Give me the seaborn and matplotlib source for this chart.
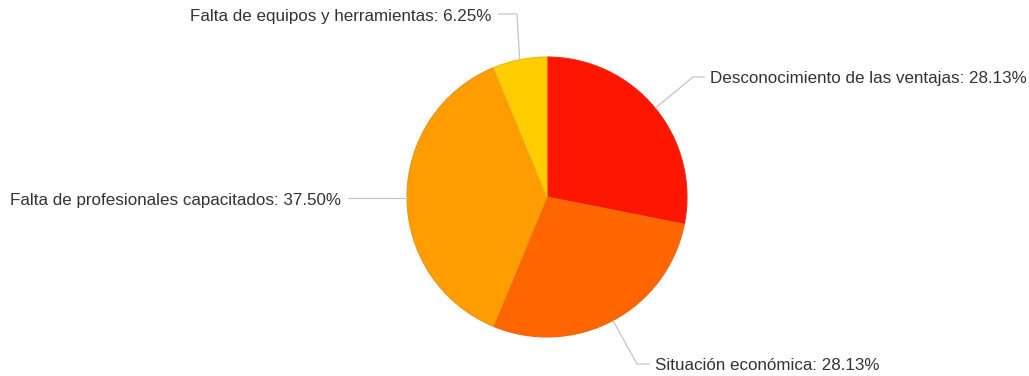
import matplotlib
matplotlib.use("Agg")
import matplotlib.pyplot as plt
import numpy as np
import seaborn as sns

# Data
categories = [
    "Desconocimiento de las ventajas",
    "Situación económica",
    "Falta de profesionales capacitados",
    "Falta de equipos y herramientas",
]
shares = [28.13, 28.13, 37.50, 6.25]
slice_colors = ["#FF1600", "#FF6600", "#FF9C00", "#FFCC00"]

sns.set_theme(style="white")
plt.rcParams["font.family"] = ["Liberation Sans", "DejaVu Sans"]

W, H = 1029, 376
fig = plt.figure(figsize=(W / 100, H / 100), dpi=100)
ax = fig.add_axes([0, 0, 1, 1])

cx, cy, r = 547, H - 197, 140
wedges, _ = ax.pie(
    shares,
    colors=slice_colors,
    startangle=90,
    counterclock=False,
    center=(cx, cy),
    radius=r,
    frame=True,
    wedgeprops=dict(linewidth=0.8),
)
for w, c in zip(wedges, slice_colors):
    w.set_edgecolor(sns.desaturate(c, 0.8))
ax.set_xlim(0, W)
ax.set_ylim(0, H)
ax.set_aspect("equal")
ax.axis("off")

# Label layout: (elbow point, text end point, text alignment)
layout = [
    ((693, H - 77), (705, H - 77), "left"),
    ((637, H - 364), (650, H - 364), "left"),
    ((407, H - 198), (348, H - 198), "right"),
    ((517, H - 14), (498, H - 14), "right"),
]

for w, cat, val, (elbow, end, ha) in zip(wedges, categories, shares, layout):
    ang = np.deg2rad((w.theta1 + w.theta2) / 2)
    px, py = cx + r * np.cos(ang), cy + r * np.sin(ang)
    ax.plot([px, elbow[0], end[0]], [py, elbow[1], end[1]],
            color="#C4C4C4", lw=0.9, solid_capstyle="butt")
    tx = end[0] + (5 if ha == "left" else -7)
    ax.text(tx, end[1] - 2, f"{cat}: {val:.2f}%", ha=ha, va="center",
            fontsize=12.25, color="#333333")

fig.savefig("out.png", dpi=100, facecolor="white")
